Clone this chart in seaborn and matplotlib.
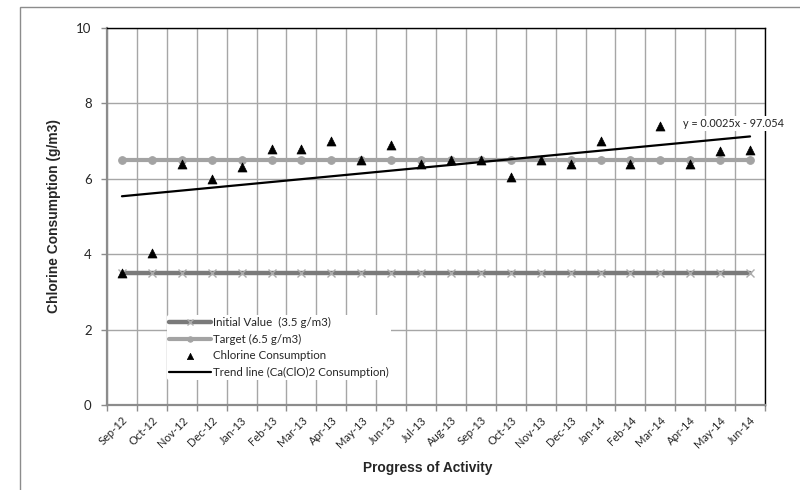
import numpy as np
import pandas as pd
import matplotlib
matplotlib.use("Agg")
import matplotlib.pyplot as plt
from matplotlib.patches import Rectangle
import seaborn as sns

# Monthly readings, Sep 2012 - Jun 2014
months = ["Sep-12", "Oct-12", "Nov-12", "Dec-12", "Jan-13", "Feb-13", "Mar-13",
          "Apr-13", "May-13", "Jun-13", "Jul-13", "Aug-13", "Sep-13", "Oct-13",
          "Nov-13", "Dec-13", "Jan-14", "Feb-14", "Mar-14", "Apr-14", "May-14",
          "Jun-14"]
initial_value = [3.5] * len(months)
target_value = [6.5] * len(months)
chlorine = [3.5, 4.03, 6.4, 6.0, 6.3, 6.8, 6.8, 7.0, 6.5, 6.9, 6.4, 6.5,
            6.5, 6.05, 6.5, 6.4, 7.0, 6.4, 7.4, 6.4, 6.73, 6.76]
y_ticks = [0, 2, 4, 6, 8, 10]
trend_label = "y = 0.0025x - 97.054"

df = pd.DataFrame({
    "pos": np.arange(len(months)),
    "initial": initial_value,
    "target": target_value,
    "chlorine": chlorine,
})

sns.set_theme(style="white")
plt.rcParams["font.family"] = ["Lato", "DejaVu Sans"]

W, H = 800, 490
fig = plt.figure(figsize=(W / 100, H / 100), dpi=100)
left, right, top, bottom = 107, 765, 28, 405
ax = fig.add_axes([left / W, 1 - bottom / H, (right - left) / W, (bottom - top) / H])

# outer chart-area frame
fig.patches.append(Rectangle((20 / W, -0.2), 1.2, 0.2 + (1 - 7 / H),
                             transform=fig.transFigure, fill=False,
                             edgecolor="#8c8c8c", linewidth=1.0, zorder=0))

sns.lineplot(data=df, x="pos", y="initial", ax=ax, color="#7a7a7a", linewidth=3.2,
             marker="x", markersize=5.5, markeredgecolor="#ababab",
             markeredgewidth=1.0, label="Initial Value  (3.5 g/m3)", zorder=3)
sns.lineplot(data=df, x="pos", y="target", ax=ax, color="#a3a3a3", linewidth=3.0,
             marker="o", markersize=5.5, markeredgecolor="#a3a3a3",
             markerfacecolor="#a3a3a3", label="Target (6.5 g/m3)", zorder=3)
sns.scatterplot(data=df, x="pos", y="chlorine", ax=ax, marker="^", s=42,
                color="black", edgecolor="black", linewidth=0.5,
                label="Chlorine Consumption", zorder=5)
sns.regplot(data=df, x="pos", y="chlorine", ax=ax, scatter=False, ci=None,
            truncate=True, color="black",
            label="Trend line (Ca(ClO)2 Consumption)",
            line_kws={"linewidth": 1.6, "zorder": 4})

n = len(months)
ax.set_xlim(-0.5, n - 0.5)
ax.set_ylim(0, 10)
ax.set_yticks(y_ticks)
ax.set_yticklabels([str(v) for v in y_ticks], fontsize=9.5)
ax.set_xticks(np.arange(n))
ax.set_xticklabels(months, rotation=45, ha="right", rotation_mode="anchor",
                   fontsize=8)
ax.set_xticks(np.arange(n + 1) - 0.5, minor=True)
ax.tick_params(axis="x", which="major", length=0, pad=7)
ax.tick_params(axis="x", which="minor", length=4, width=1, color="#8c8c8c",
               direction="out", bottom=True)
ax.tick_params(axis="y", which="major", length=4, width=1, color="#8c8c8c",
               direction="out", left=True, pad=7)
ax.grid(False)
ax.grid(True, which="minor", axis="x", color="#a6a6a6", linewidth=1.0)
ax.grid(True, which="major", axis="y", color="#a6a6a6", linewidth=1.0)
ax.set_axisbelow(True)

for side in ("left", "bottom"):
    ax.spines[side].set_color("#8c8c8c")
    ax.spines[side].set_linewidth(1.6)
for side in ("top", "right"):
    ax.spines[side].set_color("black")
    ax.spines[side].set_linewidth(1.0)

ax.set_xlabel("")
ax.set_ylabel("Chlorine Consumption (g/m3)", fontsize=9.9, fontweight="bold",
              family=["Liberation Sans", "DejaVu Sans"], labelpad=11)
fig.text(428 / W, 1 - 468 / H, "Progress of Activity", ha="center", va="center",
         fontsize=9.9, fontweight="bold", family=["Liberation Sans", "DejaVu Sans"])

ax.text(n - 1 + 1.15, 7.47, trend_label, ha="right", va="center", fontsize=7.8,
        color="#222222", clip_on=False, zorder=6,
        bbox=dict(facecolor="white", edgecolor="none", pad=1.5))

handles, labels = ax.get_legend_handles_labels()
leg = ax.legend(handles, labels, loc="upper left",
                bbox_to_anchor=((167 - left) / (right - left), (bottom - 315) / (bottom - top)),
                frameon=True, facecolor="white", edgecolor="none", framealpha=1,
                fontsize=8.3, handlelength=3.6, handletextpad=0.2, markerscale=0.7,
                borderpad=0.2, labelspacing=0.48, borderaxespad=0)
leg.set_zorder(7)

fig.savefig("out.png", dpi=100)
